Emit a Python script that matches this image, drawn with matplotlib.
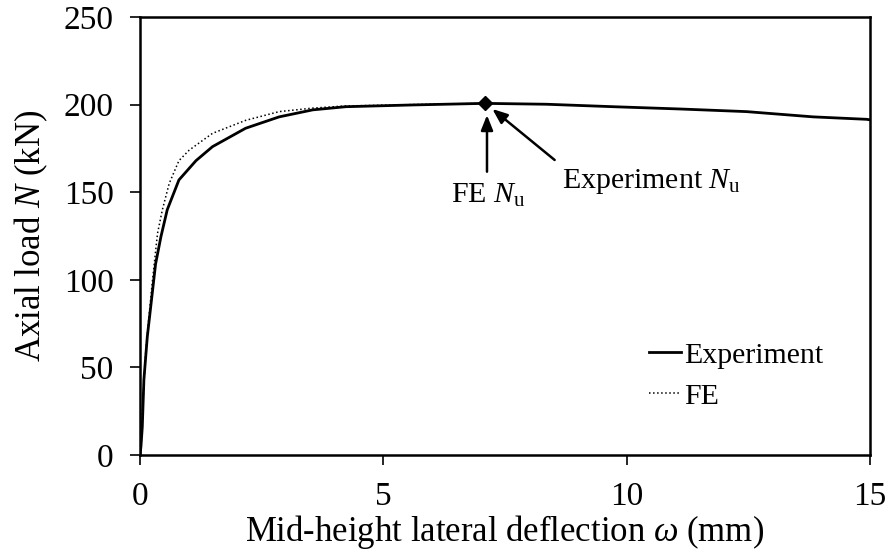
import matplotlib
matplotlib.use("Agg")
import matplotlib.pyplot as plt

plt.rcParams['font.family'] = ['Liberation Serif', 'DejaVu Serif']
plt.rcParams['mathtext.fontset'] = 'custom'
plt.rcParams['mathtext.rm'] = 'Liberation Serif'
plt.rcParams['mathtext.it'] = 'Liberation Serif:italic'
plt.rcParams['mathtext.bf'] = 'Liberation Serif:bold'

# Experiment curve (deflection mm, load kN)
exp_x = [0, 0.02, 0.047, 0.08, 0.15, 0.22, 0.32, 0.43, 0.56, 0.80, 1.15, 1.49, 2.17,
         2.86, 3.55, 4.23, 5.6, 7.08, 8.35, 9.72, 11.09, 12.46, 13.83, 14.93, 15.0]
exp_y = [0, 5, 16, 43, 67.5, 84.6, 109, 124.6, 140, 157, 168, 176, 186.5,
         193, 197, 198.8, 199.8, 200.7, 200.2, 198.8, 197.5, 196, 193, 191.6, 191.3]

# FE curve
fe_x = [0, 0.05, 0.12, 0.25, 0.36, 0.46, 0.60, 0.80, 1.01, 1.49, 2.17, 2.86, 3.55,
        4.2, 5.6, 7.08]
fe_y = [0, 25, 60, 98, 126.5, 140, 155, 168, 174, 183.6, 191, 196, 198,
        199.2, 200, 200.7]

# Ultimate load point
nu_x = [7.08]
nu_y = [200.7]

xticks = [0, 5, 10, 15]
yticks = [0, 50, 100, 150, 200, 250]

fig = plt.figure(figsize=(8.92, 5.6), dpi=100)
ax = fig.add_axes([140 / 892, 1 - 455 / 560, 730 / 892, 438 / 560])

ax.plot(exp_x, exp_y, color='black', lw=2.0, label='Experiment')
ax.plot(fe_x, fe_y, color='black', lw=1.1, ls=':', label='FE')
ax.plot(nu_x, nu_y, marker='D', color='black', ms=7.5, ls='none')

ax.set_xlim(0, 15)
ax.set_ylim(0, 250)
ax.set_xticks(xticks)
ax.set_yticks(yticks)
ax.tick_params(direction='out', length=7, width=1.2, labelsize=24, pad=12)
for s in ax.spines.values():
    s.set_linewidth(1.8)

ax.set_xlabel(r'Mid-height lateral deflection $\omega$ (mm)', fontsize=25, labelpad=1)
ax.set_ylabel(r'Axial load $N$ (kN)', fontsize=25, labelpad=10)

arrow = dict(arrowstyle='-|>,head_length=0.45,head_width=0.18', color='black', lw=1.8,
             mutation_scale=20, shrinkA=0, shrinkB=0)
ax.annotate('', xy=(7.13, 194), xytext=(7.13, 161.7), arrowprops=arrow)
ax.text(7.16, 143.8, r'FE $N_\mathrm{u}$', fontsize=21.5, ha='center', va='baseline')
ax.annotate('', xy=(7.24, 197.5), xytext=(8.52, 168.4), arrowprops=arrow)
ax.text(8.68, 152.4, r'Experiment $N_\mathrm{u}$', fontsize=21.5, ha='left', va='baseline')

leg = ax.legend(loc='upper left', bbox_to_anchor=(0.697, 0.258), frameon=False,
                fontsize=21.5, handlelength=1.08, handletextpad=0.1, labelspacing=0.47,
                borderaxespad=0, borderpad=0)

fig.savefig('out.png', dpi=100)
